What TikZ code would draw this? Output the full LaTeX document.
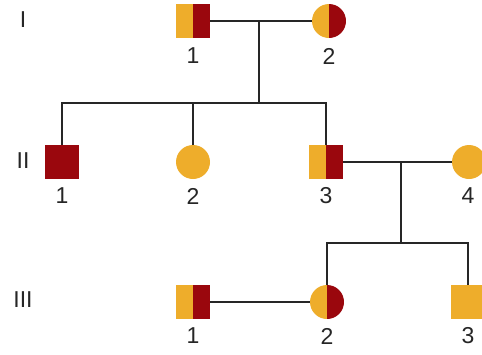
\documentclass[tikz,border=0pt]{standalone}
\usepackage{fontspec}
\setmainfont{Liberation Sans}
\definecolor{orng}{HTML}{EEAD2B}
\definecolor{dred}{HTML}{9A070D}
\definecolor{ink}{HTML}{262626}
\begin{document}
\begin{tikzpicture}[x=1pt,y=-1pt,
  sq/.style={rectangle, minimum width=34pt, minimum height=34pt, inner sep=0pt, outer sep=0pt},
  ci/.style={circle, minimum size=34pt, inner sep=0pt, outer sep=0pt},
  half/.style={path picture={
     \fill[orng] (path picture bounding box.south west) rectangle (path picture bounding box.north);
     \fill[dred] (path picture bounding box.south) rectangle (path picture bounding box.north east);}},
  ln/.style={draw=ink, line width=2.5pt},
  lab/.style={text=ink, font=\fontsize{23}{27}\selectfont, inner sep=0pt}
]
\useasboundingbox (0,0) rectangle (482,354);
\clip (0,0) rectangle (482,354);
% coordinates
\coordinate (m1) at (259,21);
\coordinate (s1) at (259,103);
\coordinate (m2) at (401,162);
\coordinate (s2) at (401,243);
% individuals
\node[sq, half] (I1) at (193,21) {};
\node[ci, half] (I2) at (329,21) {};
\node[sq, fill=dred] (II1) at (62,162) {};
\node[ci, fill=orng] (II2) at (193,162) {};
\node[sq, half] (II3) at (326,162) {};
\node[ci, fill=orng] (II4) at (469,162) {};
\node[sq, half] (III1) at (193,302) {};
\node[ci, half] (III2) at (327,302) {};
\node[sq, fill=orng] (III3) at (468,302) {};
% connectors
\draw[ln] (I1.east) -- (I2.west);
\draw[ln] (m1) -- (s1);
\draw[ln] (II1.north) |- (II3.north |- s1) -- (II3.north);
\draw[ln] (II2.north) -- (II2.north |- s1);
\draw[ln] (II3.east) -- (II4.west);
\draw[ln] (m2) -- (s2);
\draw[ln] (III2.north) |- (III3.north |- s2) -- (III3.north);
\draw[ln] (III1.east) -- (III2.west);
% generation labels
\node[lab] (gI) at (23,20) {I};
\node[lab] (gII) at (23,161) {II};
\node[lab] (gIII) at (23,300) {III};
% individual numbers
\node[lab] (tI1) at (193,56) {1};
\node[lab] (tI2) at (329,56) {2};
\node[lab] (tII1) at (62,196) {1};
\node[lab] (tII2) at (193,196) {2};
\node[lab] (tII3) at (326,196) {3};
\node[lab] (tII4) at (468,196) {4};
\node[lab] (tIII1) at (193,336) {1};
\node[lab] (tIII2) at (327,336) {2};
\node[lab] (tIII3) at (468,336) {3};
\end{tikzpicture}
\end{document}
